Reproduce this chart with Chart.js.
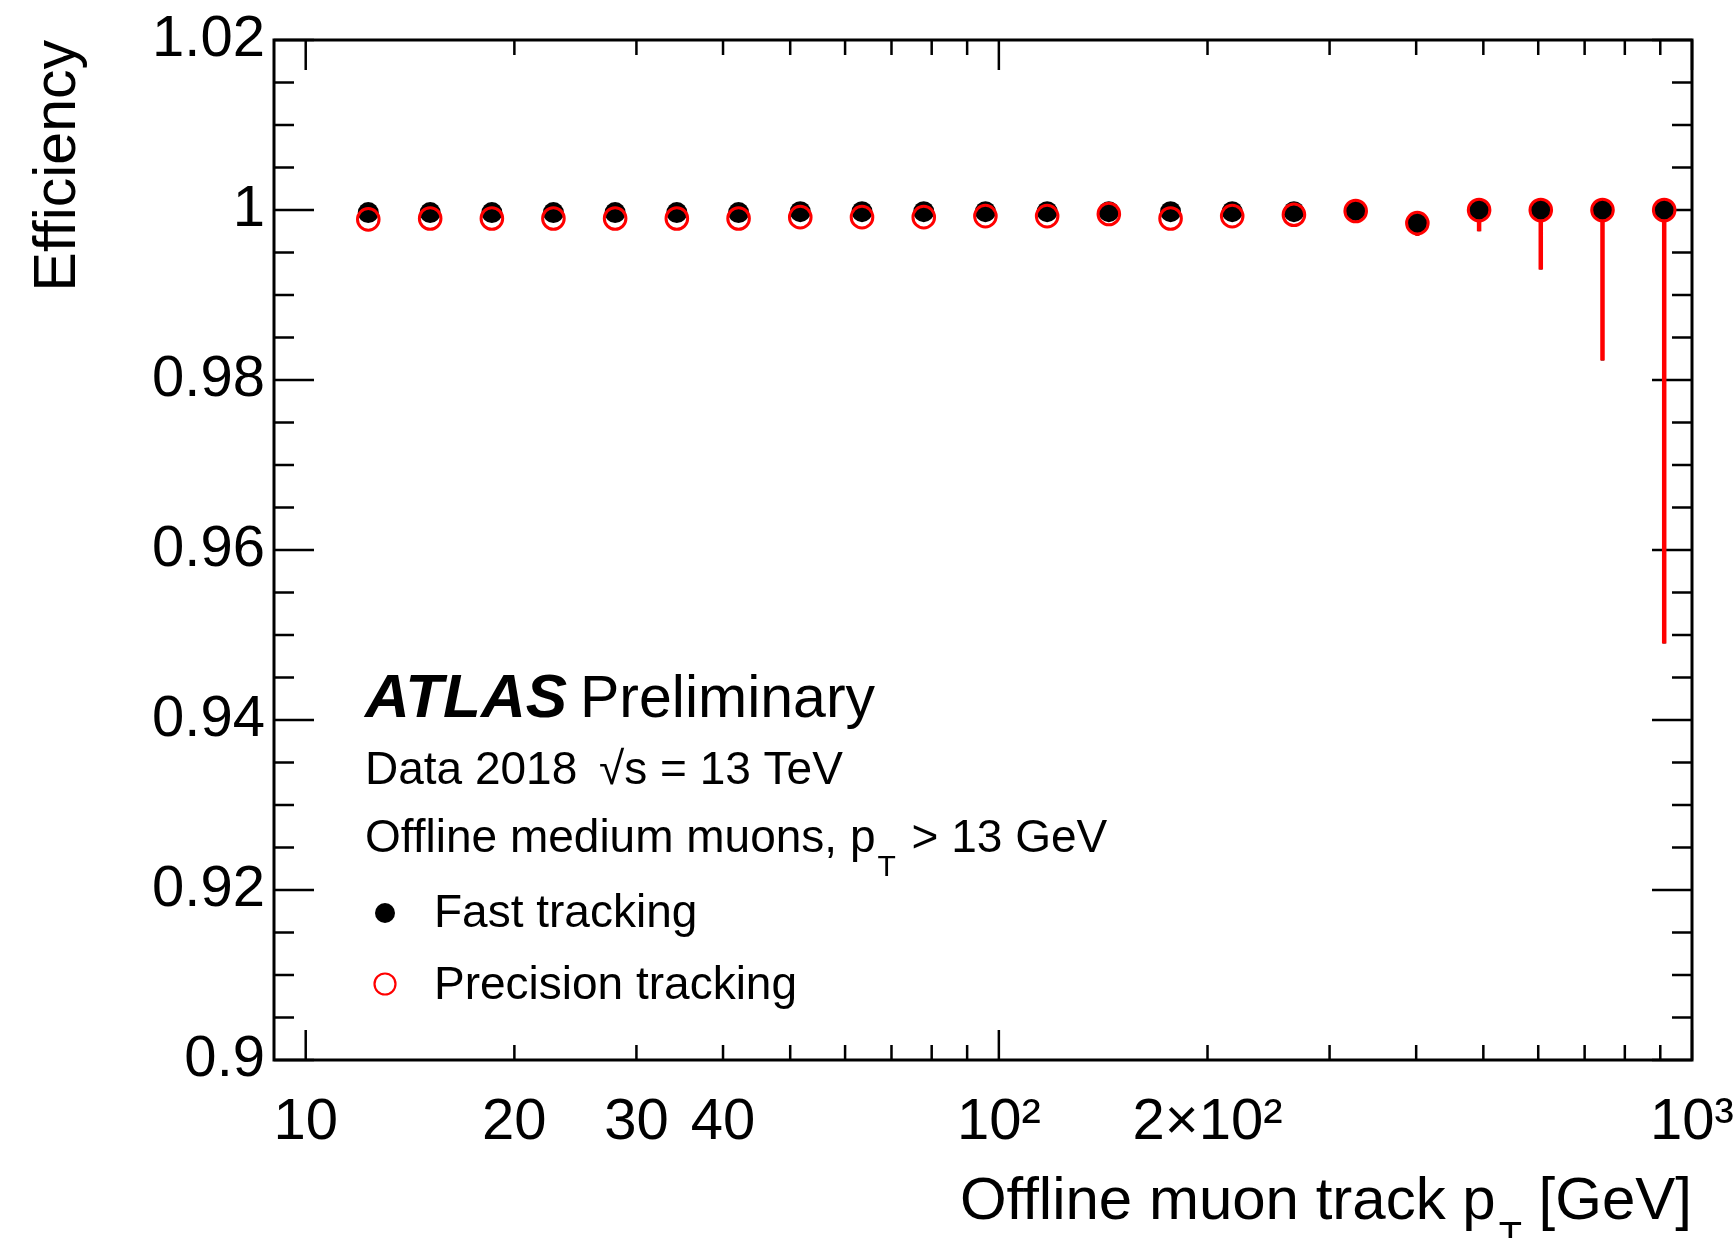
<!DOCTYPE html>
<html>
<head>
<meta charset="utf-8">
<script src="https://cdn.jsdelivr.net/npm/chart.js@4.4.1/dist/chart.umd.min.js"></script>
<style>
  html, body { margin: 0; padding: 0; background: #ffffff; }
  #wrap { width: 1736px; height: 1238px; }
  canvas { display: block; }
</style>
</head>
<body>
<div id="wrap"><canvas id="c" width="1736" height="1238"></canvas></div>
<script>
// Offline muon track pT bin centres [GeV]
const ptBins = [12.31, 15.12, 18.56, 22.77, 27.95, 34.31, 42.12, 51.70, 63.47, 77.92, 95.63,
                117.4, 144.1, 176.9, 217.1, 266.5, 327.2, 401.6, 493.0, 605.1, 742.8, 911.8];

// Fast tracking efficiency and its lower uncertainty
const fastEff = [0.9997, 0.9997, 0.9997, 0.9997, 0.9997, 0.9997, 0.9997, 0.9998, 0.9998, 0.9998, 0.9998,
                 0.9998, 0.9998, 0.9998, 0.9998, 0.9998, 0.99995, 0.99846, 1.0, 1.0, 1.0, 1.0];
const fastErrLow = [0.0002, 0.0002, 0.0002, 0.0002, 0.0002, 0.0002, 0.0002, 0.0002, 0.0002, 0.0002, 0.0002,
                    0.0002, 0.0002, 0.0002, 0.0003, 0.0003, 0.0004, 0.0015, 0.0025, 0.0070, 0.0177, 0.0510];

// Precision tracking efficiency and its lower uncertainty
const precisionEff = [0.9989, 0.9990, 0.9990, 0.9990, 0.9990, 0.9990, 0.9990, 0.99916, 0.99916, 0.99916, 0.99928,
                      0.99928, 0.99953, 0.9990, 0.99928, 0.99944, 0.99988, 0.99846, 1.0, 1.0, 1.0, 1.0];
const precisionErrLow = [0.0002, 0.0002, 0.0002, 0.0002, 0.0002, 0.0002, 0.0002, 0.0002, 0.0002, 0.0002, 0.0002,
                         0.0002, 0.0002, 0.0002, 0.0003, 0.0003, 0.0004, 0.0015, 0.0025, 0.0070, 0.0177, 0.0510];

// Axis ticks
const xTickValues = [10, 20, 30, 40, 50, 60, 70, 80, 90, 100, 200, 300, 400, 500, 600, 700, 800, 900, 1000];
const xMajorTicks = [10, 100, 1000];
const xTickLabels = { 10: '10', 20: '20', 30: '30', 40: '40', 100: '10²', 200: '2×10²', 1000: '10³' };
const yTickValues = [0.9, 0.92, 0.94, 0.96, 0.98, 1.0, 1.02];
const yTickLabels = ['0.9', '0.92', '0.94', '0.96', '0.98', '1', '1.02'];

const FONT = '"Liberation Sans", Arial, Helvetica, sans-serif';
const RED = '#ff0000';

function toPoints(xs, ys) {
  return xs.map((x, i) => ({ x: x, y: ys[i] }));
}

// Inward tick marks, the frame and the lower uncertainty bars
const framePlugin = {
  id: 'frame',
  beforeDatasetsDraw(chart) {
    const ctx = chart.ctx;
    const { left, right, top, bottom } = chart.chartArea;
    const xs = chart.scales.x, ys = chart.scales.y;
    ctx.save();
    ctx.strokeStyle = '#000';
    ctx.lineWidth = 2.5;
    ctx.beginPath();
    for (let i = 0; i <= 24; i++) {
      const v = 0.9 + i * 0.005;
      const py = ys.getPixelForValue(v);
      const len = (i % 4 === 0) ? 40 : 20;
      ctx.moveTo(left, py); ctx.lineTo(left + len, py);
      ctx.moveTo(right, py); ctx.lineTo(right - len, py);
    }
    xTickValues.forEach(v => {
      const px = xs.getPixelForValue(v);
      const len = xMajorTicks.includes(v) ? 30 : 15;
      ctx.moveTo(px, bottom); ctx.lineTo(px, bottom - len);
      ctx.moveTo(px, top); ctx.lineTo(px, top + len);
    });
    ctx.stroke();
    ctx.lineWidth = 3;
    ctx.strokeRect(left, top, right - left, bottom - top);

    const bars = [
      { eff: fastEff, err: fastErrLow, color: '#000', w: 3 },
      { eff: precisionEff, err: precisionErrLow, color: RED, w: 4.5 }
    ];
    bars.forEach(b => {
      ctx.strokeStyle = b.color;
      ctx.lineWidth = b.w;
      ctx.beginPath();
      ptBins.forEach((x, i) => {
        const px = xs.getPixelForValue(x);
        ctx.moveTo(px, ys.getPixelForValue(b.eff[i]));
        ctx.lineTo(px, ys.getPixelForValue(b.eff[i] - b.err[i]));
      });
      ctx.stroke();
    });
    ctx.restore();
  }
};

// Axis titles, ATLAS label and legend
const textPlugin = {
  id: 'texts',
  afterDraw(chart) {
    const ctx = chart.ctx;
    ctx.save();
    ctx.fillStyle = '#000';
    ctx.textBaseline = 'alphabetic';

    // y-axis title
    ctx.save();
    ctx.translate(75, 40);
    ctx.rotate(-Math.PI / 2);
    ctx.textAlign = 'right';
    ctx.font = '59px ' + FONT;
    ctx.fillText('Efficiency', 0, 0);
    ctx.restore();

    // x-axis title with subscript
    ctx.textAlign = 'left';
    const tSize = 60, subSize = 38;
    ctx.font = tSize + 'px ' + FONT;
    const partA = 'Offline muon track p', partC = ' [GeV]';
    const wA = ctx.measureText(partA).width;
    const wC = ctx.measureText(partC).width;
    ctx.font = subSize + 'px ' + FONT;
    const wB = ctx.measureText('T').width;
    const startX = 1692 - (wA + 3 + wB + wC);
    const baseY = 1219;
    ctx.font = tSize + 'px ' + FONT;
    ctx.fillText(partA, startX, baseY);
    ctx.fillText(partC, startX + wA + 3 + wB, baseY);
    ctx.font = subSize + 'px ' + FONT;
    ctx.fillText('T', startX + wA + 3, baseY + 0.5 * tSize);

    // ATLAS Preliminary
    ctx.font = 'italic bold 62px ' + FONT;
    ctx.fillText('ATLAS', 365, 717);
    ctx.font = '59px ' + FONT;
    ctx.fillText('Preliminary', 580, 717);

    // Data line
    ctx.font = '46px ' + FONT;
    ctx.fillText('Data 2018', 365, 784);
    ctx.fillText('√s = 13 TeV', 599, 784);

    // Selection line with subscript
    const s1 = 'Offline medium muons, p';
    ctx.fillText(s1, 365, 852);
    const w1 = ctx.measureText(s1).width;
    ctx.font = '30px ' + FONT;
    ctx.fillText('T', 365 + w1 + 2, 852 + 24);
    const wT = ctx.measureText('T').width;
    ctx.font = '46px ' + FONT;
    ctx.fillText(' > 13 GeV', 365 + w1 + 2 + wT + 3, 852);

    // Legend
    ctx.beginPath();
    ctx.arc(385, 913, 10, 0, Math.PI * 2);
    ctx.fill();
    ctx.fillText('Fast tracking', 434, 927);
    ctx.beginPath();
    ctx.arc(385, 984, 10.5, 0, Math.PI * 2);
    ctx.strokeStyle = RED;
    ctx.lineWidth = 2.2;
    ctx.stroke();
    ctx.fillText('Precision tracking', 434, 999);

    ctx.restore();
  }
};

new Chart(document.getElementById('c'), {
  type: 'scatter',
  data: {
    datasets: [
      {
        label: 'Fast tracking',
        data: toPoints(ptBins, fastEff),
        pointStyle: 'circle',
        pointRadius: 10.5,
        backgroundColor: '#000',
        borderWidth: 0,
        order: 2
      },
      {
        label: 'Precision tracking',
        data: toPoints(ptBins, precisionEff),
        pointStyle: 'circle',
        pointRadius: 10.8,
        backgroundColor: 'rgba(0,0,0,0)',
        borderColor: RED,
        borderWidth: 3,
        order: 1
      }
    ]
  },
  options: {
    responsive: false,
    devicePixelRatio: 1,
    animation: false,
    events: [],
    layout: { padding: { top: 40, right: 44, bottom: 0, left: 0 } },
    plugins: { legend: { display: false }, tooltip: { enabled: false } },
    scales: {
      x: {
        type: 'logarithmic',
        min: 9,
        max: 1000,
        position: 'bottom',
        afterBuildTicks: s => { s.ticks = xTickValues.map(v => ({ value: v })); },
        afterFit: s => { s.height = 178; s.paddingLeft = 0; s.paddingRight = 0; },
        ticks: {
          autoSkip: false,
          maxRotation: 0,
          minRotation: 0,
          padding: 28,
          color: '#000',
          font: { family: FONT, size: 58 },
          callback: v => (xTickLabels[v] !== undefined ? xTickLabels[v] : '')
        },
        grid: { display: false, drawTicks: false },
        border: { display: false }
      },
      y: {
        min: 0.9,
        max: 1.02,
        position: 'left',
        afterBuildTicks: s => { s.ticks = yTickValues.map(v => ({ value: v })); },
        afterFit: s => { s.width = 274; s.paddingTop = 0; s.paddingBottom = 0; },
        ticks: {
          padding: 9,
          color: '#000',
          font: { family: FONT, size: 58 },
          callback: (v, i) => yTickLabels[i]
        },
        grid: { display: false, drawTicks: false },
        border: { display: false }
      }
    }
  },
  plugins: [framePlugin, textPlugin]
});
</script>
</body>
</html>
